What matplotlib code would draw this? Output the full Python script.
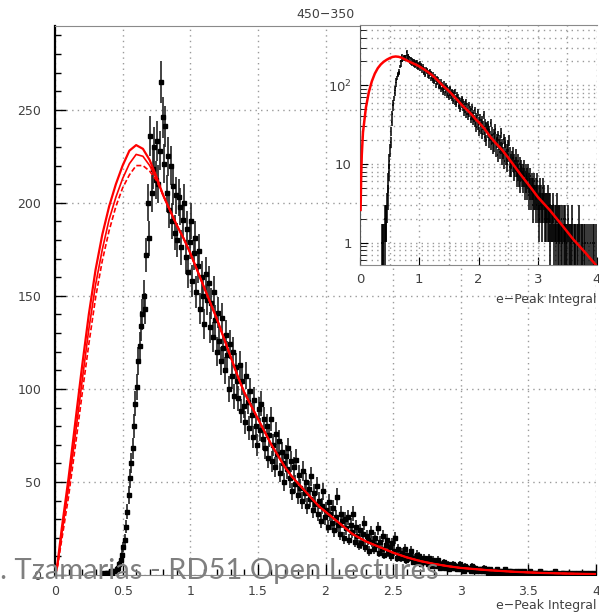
import numpy as np
import matplotlib
matplotlib.use("Agg")
import matplotlib.pyplot as plt

# histogram, 0.01 bins starting at 0.35
bin_start = 0.35
bin_width = 0.01
counts = [
    0, 1, 0, 1, 1, 0, 2, 1, 2, 2,
    3, 4, 6, 8, 11, 15, 19, 26, 34, 43,
    52, 60, 68, 80, 92, 101, 115, 123, 134, 140,
    150, 143, 172, 200, 181, 236, 205, 218, 230, 212,
    233, 210, 228, 265, 246, 221, 241, 205, 225, 196,
    220, 190, 209, 184, 204, 180, 203, 198, 176, 191,
    200, 171, 186, 163, 179, 190, 158, 173, 181, 152,
    166, 174, 143, 160, 150, 135, 162, 148, 157, 133,
    146, 128, 152, 137, 120, 141, 126, 115, 138, 122,
    110, 129, 118, 100, 124, 107, 120, 96, 112, 104,
    95, 113, 88, 104, 91, 82, 107, 93, 79, 99,
    86, 74, 94, 80, 70, 89, 78, 92, 73, 84,
    68, 80, 63, 75, 84, 61, 70, 58, 76, 65,
    72, 55, 66, 60, 50, 64, 57, 68, 52, 61,
    45, 58, 49, 62, 43, 54, 47, 40, 56, 44,
    50, 37, 46, 41, 53, 35, 44, 38, 48, 33,
    40, 29, 37, 45, 31, 35, 26, 39, 33, 28,
    36, 24, 31, 42, 27, 22, 33, 29, 20, 30,
    25, 31, 19, 27, 23, 33, 18, 26, 21, 16,
    24, 17, 22, 28, 15, 21, 19, 13, 23, 18,
    14, 20, 16, 25, 12, 18, 14, 21, 11, 16,
    19, 12, 15, 10, 17, 13, 20, 9, 14, 11,
    9, 12, 10, 14, 8, 11, 9, 10, 13, 7,
    9, 8, 11, 7, 10, 6, 8, 9, 7, 8,
    6, 9, 7, 5, 8, 6, 7, 5, 8, 4,
    6, 5, 7, 4, 5, 6, 3, 5, 4, 6,
    4, 5, 3, 4, 6, 3, 4, 2, 5, 3,
    4, 3, 2, 5, 3, 4, 2, 3, 3, 2,
    3, 2, 4, 2, 3, 1, 3, 2, 0, 2,
    2, 3, 1, 2, 0, 2, 1, 3, 2, 1,
    2, 1, 2, 0, 1, 2, 1, 0, 2, 1,
    1, 2, 0, 1, 1, 0, 2, 1, 0, 1,
    1, 0, 1, 2, 0, 1, 0, 1, 1, 0,
    0, 1, 1, 0, 2, 0, 1, 0, 0, 1,
    1, 0, 0, 1, 0, 1, 0, 0, 1, 0,
    0, 1, 0, 0, 1, 0, 0, 1, 0, 0,
    1, 0, 0, 1, 0,
]

# fitted curves (three fits, they agree above ~0.8)
fit_x = [0.0, 0.01, 0.02, 0.03, 0.05, 0.10, 0.15, 0.20, 0.25, 0.30,
         0.35, 0.40, 0.45, 0.50, 0.55, 0.60, 0.65, 0.70, 0.75, 0.80, 0.85,
         0.90, 0.95, 1.00, 1.05, 1.10, 1.15, 1.20, 1.25, 1.30, 1.35, 1.40,
         1.45, 1.50, 1.55, 1.60, 1.65, 1.70, 1.75, 1.80, 1.85, 1.90, 1.95,
         2.00, 2.10, 2.20, 2.30, 2.40, 2.50, 2.60, 2.70, 2.80, 2.90, 3.00,
         3.20, 3.40, 3.60, 3.80, 4.00]
fit_tail = [204, 196, 188, 181, 173, 164, 155, 146, 137, 127, 117, 107, 98,
            91, 84, 77, 70, 64, 58, 53, 49, 45, 41, 37, 34, 28, 22, 18, 15,
            12, 9.5, 7.5, 6, 4.8, 3.8, 2.6, 1.7, 1.1, 0.75, 0.5]
fit_a = [0, 2.6, 7, 13, 25, 52, 82, 112, 140, 164, 183, 198, 210, 220,
         228, 231, 229, 223, 214] + fit_tail
fit_b = [0, 2.4, 6, 11, 22, 47, 75, 104, 132, 156, 175, 191, 203, 213,
         221, 226, 225, 220, 213] + fit_tail
fit_c = [0, 2.2, 5, 10, 19, 42, 69, 97, 124, 149, 169, 185, 198, 208,
         215, 220, 220, 217, 212] + fit_tail

title = "450\u2212350"
xlabel = "e\u2212Peak Integral"
watermark = "D. Tzamarias - RD51 Open Lectures"

W, H = 599, 615
fig = plt.figure(figsize=(W / 100, H / 100), dpi=100)

def px_rect(x0, y0, x1, y1):
    return [x0 / W, 1 - y1 / H, (x1 - x0) / W, (y1 - y0) / H]

lab_col = "#404040"
grid_col = "#9a9a9a"

counts = np.array(counts, dtype=float)
centers = bin_start + bin_width * (np.arange(len(counts)) + 0.5)
errs = 0.7 * np.sqrt(counts)

# ---- main panel
ax = fig.add_axes(px_rect(55, 26, 596, 575))
ax.errorbar(centers, counts, yerr=errs, fmt="s",
            ms=2.2, color="black", ecolor="#222222", elinewidth=1.2,
            capsize=0, zorder=3)
ax.plot(fit_x, fit_a, color="red", lw=1.6, zorder=4)
ax.plot(fit_x, fit_b, color="red", lw=1.2, zorder=4)
ax.plot(fit_x, fit_c, color="red", lw=1.2, ls=(0, (3, 1.5)), zorder=4)

ax.set_xlim(0, 4)
ax.set_ylim(0, 295)
ax.set_xticks(np.arange(0, 4.01, 0.5))
ax.set_xticklabels(["0", "0.5", "1", "1.5", "2", "2.5", "3", "3.5", "4"])
ax.set_xticks(np.arange(0, 4.01, 0.1), minor=True)
ax.set_yticks(np.arange(0, 251, 50))
ax.set_yticks(np.arange(0, 291, 10), minor=True)
ax.tick_params(which="both", direction="in", colors="black",
               labelcolor=lab_col, labelsize=9)
ax.tick_params(which="major", length=8, width=1)
ax.tick_params(which="minor", length=4, width=1)
ax.tick_params(axis="x", pad=7)
ax.tick_params(axis="y", pad=10)
ax.grid(True, which="major", ls=(0, (1, 3)), color=grid_col, lw=1)
for s in ["top", "bottom"]:
    ax.spines[s].set_color("#8a8a8a")
ax.spines["right"].set_visible(False)
ax.spines["left"].set_linewidth(1.6)
ax.spines["left"].set_color("black")

fig.text(597 / W, 1 - 605 / H, xlabel, ha="right", va="center",
         fontsize=9, color=lab_col)
fig.text(325 / W, 1 - 14 / H, title, ha="center", va="center",
         fontsize=9, color=lab_col)

# ---- inset, log scale
ins = fig.add_axes(px_rect(360, 25, 597, 265))
ins.set_facecolor("white")
ok = counts > 0
ins.errorbar(centers[ok], counts[ok], yerr=errs[ok], xerr=bin_width / 2,
             fmt="none", ecolor="black", elinewidth=1.1, capsize=0, zorder=3)
ins.plot(fit_x[1:], fit_a[1:], color="red", lw=1.8, zorder=4)
ins.set_yscale("log")
ins.set_xlim(0, 4)
ins.set_ylim(0.52, 580)
ins.set_xticks([0, 1, 2, 3, 4])
ins.set_xticklabels(["0", "1", "2", "3", "4"])
ins.set_xticks(np.arange(0.5, 4, 1.0), minor=True)
ins.set_yticks([1, 10, 100])
ins.set_yticklabels(["1", "10", "10$^2$"])
ins.tick_params(which="both", direction="in", labelcolor=lab_col,
                labelsize=9.5)
ins.tick_params(which="major", length=6, pad=6)
ins.tick_params(which="minor", length=4)
ins.tick_params(axis="x", which="minor", length=0)
ins.grid(True, which="both", ls=(0, (1, 3)), color=grid_col, lw=1)
for s in ["top", "bottom"]:
    ins.spines[s].set_color("#8a8a8a")
ins.spines["right"].set_visible(False)
ins.spines["left"].set_color("#555555")

fig.text(597 / W, 1 - 300 / H, xlabel, ha="right", va="center",
         fontsize=9, color=lab_col)

# watermark from the slide
fig.text(-22 / W, 1 - 579 / H, watermark, ha="left", va="baseline",
         fontsize=21, color="#7f7f7f", family=["Lato", "DejaVu Sans"],
         zorder=10)

fig.savefig("out.png", dpi=100)
